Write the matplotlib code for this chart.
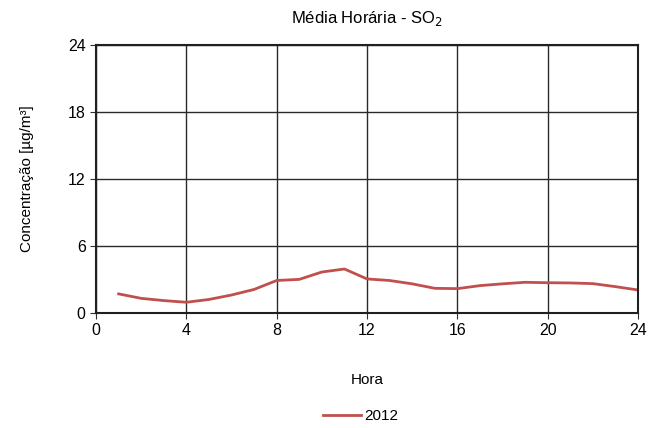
import matplotlib
matplotlib.use("Agg")
import matplotlib.pyplot as plt
from matplotlib.lines import Line2D

hours = list(range(1, 25))
so2_2012 = [1.7, 1.3, 1.1, 0.95, 1.2, 1.6, 2.1, 2.9, 3.0, 3.66, 3.93, 3.04,
            2.9, 2.6, 2.2, 2.17, 2.44, 2.6, 2.74, 2.7, 2.68, 2.62, 2.35, 2.05]
series_label = "2012"
xticks = [0, 4, 8, 12, 16, 20, 24]
yticks = [0, 6, 12, 18, 24]

plt.rcParams['font.family'] = ['Liberation Sans Narrow', 'Liberation Sans', 'DejaVu Sans']

fig = plt.figure(figsize=(6.49, 4.28), dpi=100)
ax = fig.add_axes([0.148, 0.269, 0.835, 0.626])
ax.plot(hours, so2_2012, color='#C0504D', lw=2, label=series_label)
ax.set_xlim(0, 24)
ax.set_ylim(0, 24)
ax.set_xticks(xticks)
ax.set_yticks(yticks)
ax.grid(True, color='#2a2a2a', lw=1)
ax.set_axisbelow(True)
for s in ax.spines.values():
    s.set_color('#202020')
    s.set_linewidth(1.5)
ax.tick_params(labelsize=11.5, length=4, color='#303030', direction='out')
ax.set_title('Média Horária - SO$_2$', fontsize=12, pad=16)
ax.set_xlabel('Hora', fontsize=11, labelpad=25)
ax.set_ylabel('Concentração [µg/m³]', fontsize=11, labelpad=24)
h = [Line2D([0], [0], color='#C0504D', lw=2)]
fig.legend(h, [series_label], loc='center', bbox_to_anchor=(0.555, 0.028),
           frameon=False, fontsize=11, handlelength=2.5, handletextpad=0.2)
fig.savefig('out.png', dpi=100)
